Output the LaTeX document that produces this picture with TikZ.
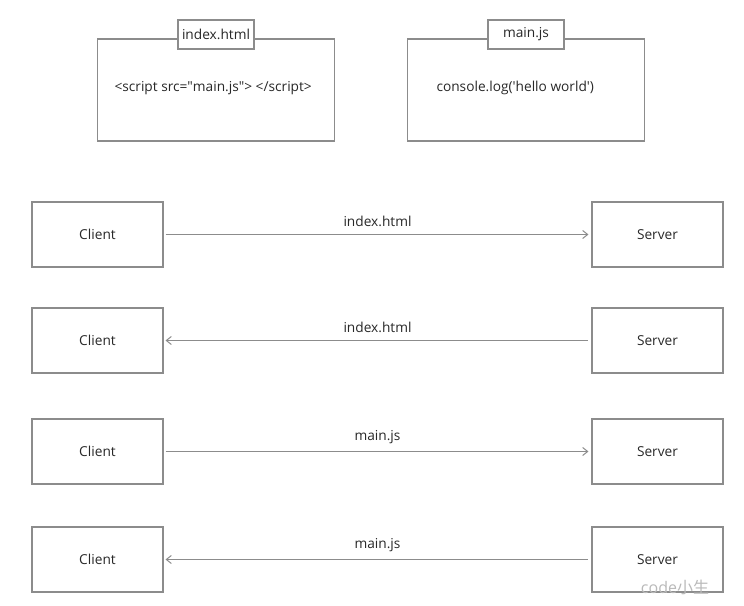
\documentclass[tikz,border=0pt]{standalone}
\usepackage{fontspec}
\setmainfont{Open Sans}
\newfontfamily\cjk{Noto Sans CJK SC}
\usepackage{tikz}
\usetikzlibrary{arrows.meta}
\definecolor{linegray}{RGB}{140,140,140}
\definecolor{textgray}{RGB}{40,40,40}

\begin{document}
\begin{tikzpicture}[x=1pt,y=-1pt,
		filebox/.style={draw=linegray,line width=1.1pt,minimum width=237pt,minimum height=102pt},
		tabbox/.style={draw=linegray,line width=1.1pt,fill=white,minimum width=76pt,minimum height=29pt,text=textgray},
		endbox/.style={draw=linegray,line width=1.1pt,minimum width=131pt,minimum height=65pt,text=textgray},
		msg/.style={draw=linegray,line width=1pt,shorten >=3pt,shorten <=2pt},
		>={Straight Barb[length=5pt,width=8pt]},
		every node/.style={font=\fontsize{13.7}{16}\selectfont}]
	\useasboundingbox (0,0) rectangle (744,605);
	%% define file boxes
	\node (fhtml) at (216,90) [filebox] {};
	\node (thtml) at (216,34.5) [tabbox] {index.html};
	\node (chtml) at (111,88) [anchor=west,text=textgray] {<script src=\textquotedbl main.js\textquotedbl> </script>};
	\node (fjs) at (526,90) [filebox] {};
	\node (tjs) at (526,34.5) [tabbox] {main.js};
	\node (cjs) at (433,88) [anchor=west,text=textgray] {console.log(\textquotesingle hello world\textquotesingle)};
	%% define clients and servers
	\node (c1) at (97.5,234.5) [endbox] {Client};
	\node (s1) at (657.5,234.5) [endbox] {Server};
	\node (c2) at (97.5,340.5) [endbox] {Client};
	\node (s2) at (657.5,340.5) [endbox] {Server};
	\node (c3) at (97.5,451.5) [endbox] {Client};
	\node (s3) at (657.5,451.5) [endbox] {Server};
	\node (c4) at (97.5,559.5) [endbox] {Client};
	\node (s4) at (657.5,559.5) [endbox] {Server};
	%% define arrows
	\draw[msg,->] (c1) -- (s1) node[midway,above=4pt,text=textgray] {index.html};
	\draw[msg,<-] (c2) -- (s2) node[midway,above=4pt,text=textgray] {index.html};
	\draw[msg,->] (c3) -- (s3) node[midway,above=4pt,text=textgray] {main.js};
	\draw[msg,<-] (c4) -- (s4) node[midway,above=4pt,text=textgray] {main.js};
	%% watermark
	\node (wm) at (675,587) [text=gray!55,font=\fontsize{16}{18}\selectfont] {code{\cjk 小生}};
\end{tikzpicture}
\end{document}
